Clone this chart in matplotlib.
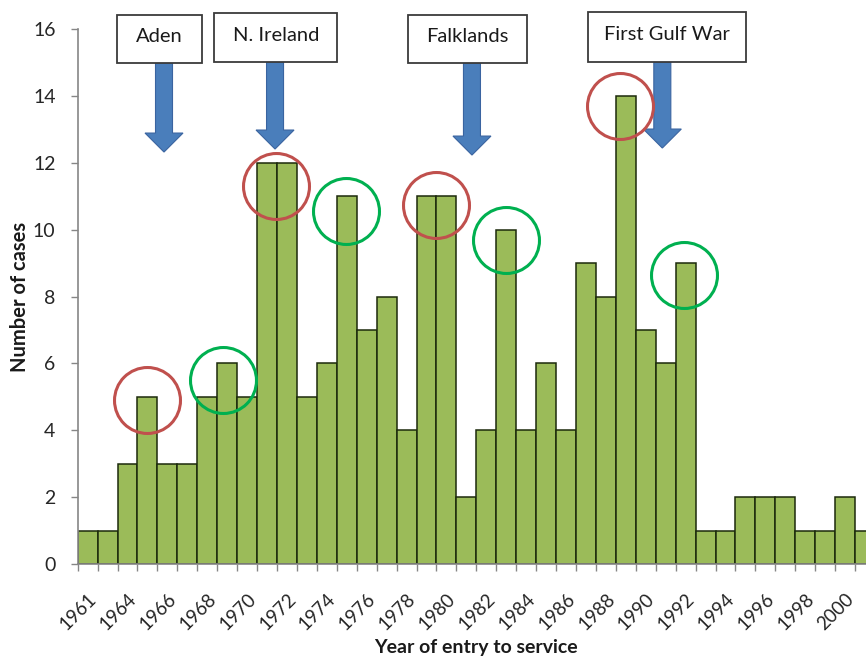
import matplotlib
matplotlib.use("Agg")
import matplotlib.pyplot as plt
from matplotlib.patches import FancyArrow, Rectangle
import numpy as np

plt.rcParams['font.family'] = ['Lato', 'DejaVu Sans']

# ---- data ----
years = [1961, 1963] + list(range(1964, 2002))
cases = [1, 1, 3, 5, 3, 3, 5, 6, 5, 12, 12, 5, 6, 11, 7, 8, 4, 11, 11, 2,
         4, 10, 4, 6, 4, 9, 8, 14, 7, 6, 9, 1, 1, 2, 2, 2, 1, 1, 2, 1]
tick_labels = ["1961", "1964", "1966", "1968", "1970", "1972", "1974", "1976",
               "1978", "1980", "1982", "1984", "1986", "1988", "1990", "1992",
               "1994", "1996", "1998", "2000"]

# event annotations (x in bar-index units, y in case units)
events = ["Aden", "N. Ireland", "Falklands", "First Gulf War"]
event_box_x0 = [1.47, 6.35, 16.07, 25.10]
event_box_x1 = [5.74, 12.52, 22.04, 33.03]
event_box_y0 = [14.98, 15.01, 14.98, 15.01]
event_box_y1 = [16.42, 16.48, 16.42, 16.51]
event_arrow_x = [3.83, 9.40, 19.28, 28.83]
event_arrow_tip = [12.32, 12.41, 12.23, 12.44]

# highlight circles
red_x = [3.0, 9.47, 17.5, 26.71]
red_y = [4.9, 11.3, 10.74, 13.7]
green_x = [6.79, 12.96, 21.0, 29.92]
green_y = [5.5, 10.56, 9.69, 8.64]

# ---- figure ----
W, H = 866, 657
fig = plt.figure(figsize=(W / 100, H / 100), dpi=100)
ax_left, ax_right = 77.7, 875.0
ax_top, ax_bot = 29.0, 564.0
ax = fig.add_axes([ax_left / W, (H - ax_bot) / H,
                   (ax_right - ax_left) / W, (ax_bot - ax_top) / H])

x = np.arange(len(cases))
ax.bar(x, cases, width=1.0, color='#9BBB59', edgecolor='#1c2a0c',
       linewidth=1.1, zorder=2)

ax.set_xlim(-0.5, len(cases) - 0.5)
ax.set_ylim(0, 16)
ax.set_yticks(range(0, 17, 2))

ax.set_xticks(x[::2])
ax.set_xticklabels(tick_labels, rotation=45, ha='right', va='top',
                   rotation_mode='anchor', fontsize=13.5, color='#262626')
ax.set_xticks(np.arange(-0.5, len(cases) + 0.5, 1.0), minor=True)
ax.tick_params(axis='x', which='major', length=0, pad=19)
ax.tick_params(axis='x', which='minor', length=5, color='#868686', width=1)
ax.tick_params(axis='y', length=5, color='#868686', width=1, pad=11,
               labelsize=14, labelcolor='#262626')

for s in ['top', 'right']:
    ax.spines[s].set_visible(False)
for s in ['left', 'bottom']:
    ax.spines[s].set_color('#868686')
    ax.spines[s].set_linewidth(1.2)

ax.set_ylabel("Number of cases", fontsize=14.5, fontweight='bold', color='#1a1a1a')
ax.yaxis.set_label_coords(-0.072, 0.5)
ax.yaxis.label.set_va('center')
ax.set_xlabel("Year of entry to service", fontsize=14, fontweight='bold',
              color='#1a1a1a')
ax.xaxis.set_label_coords(0.5, -0.156)
ax.xaxis.label.set_va('center')

# circles
ax.plot(red_x, red_y, 'o', ms=47.5, mfc='none', mec='#C0504D', mew=2.2,
        clip_on=False, zorder=5)
ax.plot(green_x, green_y, 'o', ms=47.5, mfc='none', mec='#00B050', mew=2.2,
        clip_on=False, zorder=5)

# event boxes and arrows
px_per_x = (ax_right - ax_left) / len(cases)
px_per_y = (ax_bot - ax_top) / 16.0
for name, bx0, bx1, by0, by1, axp, tip in zip(events, event_box_x0, event_box_x1,
                                              event_box_y0, event_box_y1,
                                              event_arrow_x, event_arrow_tip):
    rect = Rectangle((bx0, by0), bx1 - bx0, by1 - by0, facecolor='white',
                     edgecolor='#3a3a3a', linewidth=1.3, clip_on=False, zorder=6)
    ax.add_patch(rect)
    ax.text((bx0 + bx1) / 2, (by0 + by1) / 2 + 0.07, name, ha='center',
            va='center', fontsize=14.5, color='#1a1a1a', zorder=7, clip_on=False)
    shaft_w = 17 / px_per_x
    head_w = 38 / px_per_x
    head_l = 19 / px_per_y
    arr = FancyArrow(axp, by0, 0, tip - by0, width=shaft_w, head_width=head_w,
                     head_length=head_l, length_includes_head=True,
                     facecolor='#4A7EBB', edgecolor='#3A64A0', linewidth=0.8,
                     clip_on=False, zorder=4)
    ax.add_patch(arr)

fig.savefig("out.png", dpi=100)
